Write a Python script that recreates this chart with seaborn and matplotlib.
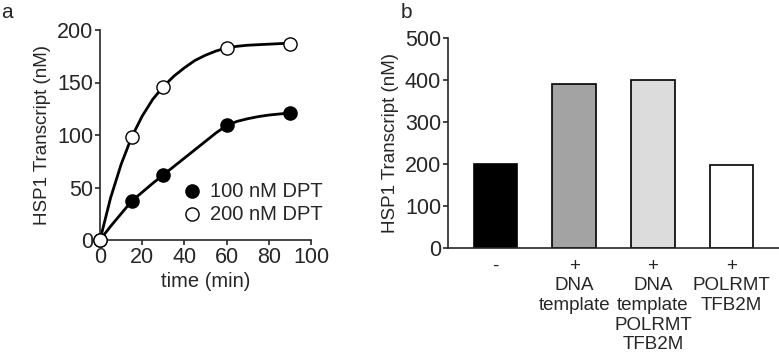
import matplotlib
matplotlib.use("Agg")
import matplotlib.pyplot as plt
import seaborn as sns

# panel a: measured time course
time_min = [0, 15, 30, 60, 90]
dpt100 = [0, 37, 62, 110, 121]
dpt200 = [0, 98, 146, 183, 187]

# fitted curves
fit_time = [0, 5, 10, 15, 20, 25, 30, 35, 40, 45, 50, 55, 60, 65, 70, 75, 80, 85, 90]
fit100 = [0, 13, 25, 37, 45.5, 54, 62, 70, 78, 86, 94, 102, 109, 113, 115.5, 117.5, 119, 120, 121]
fit200 = [0, 40, 72, 98, 118, 134, 146, 156, 164, 171, 176, 180, 183, 184.5, 185.5, 186, 186.5, 187, 187.5]

# panel b: bars
conditions = ["-", "+\nDNA\ntemplate", "+\nDNA\ntemplate\nPOLRMT\nTFB2M", "+\nPOLRMT\nTFB2M"]
transcript = [200, 390, 400, 197]
bar_colors = ["#000000", "#a3a3a3", "#dcdcdc", "#ffffff"]

sns.set_style("ticks")
plt.rcParams["font.family"] = ["Liberation Sans", "DejaVu Sans"]
plt.rcParams["font.size"] = 14
plt.rcParams["axes.linewidth"] = 1.2
plt.rcParams["xtick.major.width"] = 1.2
plt.rcParams["ytick.major.width"] = 1.2
plt.rcParams["xtick.major.size"] = 3.5
plt.rcParams["ytick.major.size"] = 3.5
plt.rcParams["xtick.labelsize"] = 15.5
plt.rcParams["ytick.labelsize"] = 15.5

fig = plt.figure(figsize=(7.79, 3.63), dpi=100)
ax1 = fig.add_axes([100 / 779, 1 - 240 / 363, 211 / 779, 210 / 363])
ax2 = fig.add_axes([448 / 779, 1 - 248 / 363, 331 / 779, 210 / 363])

# ---- panel a
sns.lineplot(x=fit_time, y=fit100, color="black", lw=2, ax=ax1, zorder=2)
sns.lineplot(x=fit_time, y=fit200, color="black", lw=2, ax=ax1, zorder=2)
sns.scatterplot(x=time_min, y=dpt100, color="black", edgecolor="black", s=90,
                linewidth=1, label="100 nM DPT", ax=ax1, zorder=3, clip_on=False)
sns.scatterplot(x=time_min, y=dpt200, color="white", edgecolor="black", s=90,
                linewidth=1, label="200 nM DPT", ax=ax1, zorder=3, clip_on=False)
ax1.set_xlim(0, 100)
ax1.set_ylim(0, 200)
ax1.set_xticks([0, 20, 40, 60, 80, 100])
ax1.set_yticks([0, 50, 100, 150, 200])
ax1.set_xlabel("time (min)", fontsize=14.5, labelpad=3)
ax1.set_ylabel("HSP1 Transcript (nM)", fontsize=13.5, labelpad=4)
ax1.tick_params(pad=1.5)
ax1.legend(loc="lower left", bbox_to_anchor=(0.32, 0.02), frameon=False,
           fontsize=14.5, handletextpad=0.3, labelspacing=0.2, borderpad=0.1,
           handlelength=1.2)
sns.despine(ax=ax1)

# ---- panel b
sns.barplot(x=conditions, y=transcript, hue=conditions, palette=bar_colors,
            legend=False, edgecolor="black", linewidth=1.2, width=0.55, ax=ax2)
ax2.set_xlim(-0.6, 3.6)
ax2.set_ylim(0, 500)
ax2.set_yticks([0, 100, 200, 300, 400, 500])
ax2.set_ylabel("HSP1 Transcript (nM)", fontsize=13.5, labelpad=4)
ax2.tick_params(axis="x", length=0, pad=7, labelsize=13.5)
ax2.tick_params(axis="y", pad=1.5)
sns.despine(ax=ax2)

fig.text(1 / 779, 1 - 12 / 363, "a", fontsize=15, va="center", ha="left")
fig.text(401 / 779, 1 - 12 / 363, "b", fontsize=15, va="center", ha="left")

fig.savefig("out.png", dpi=100)
